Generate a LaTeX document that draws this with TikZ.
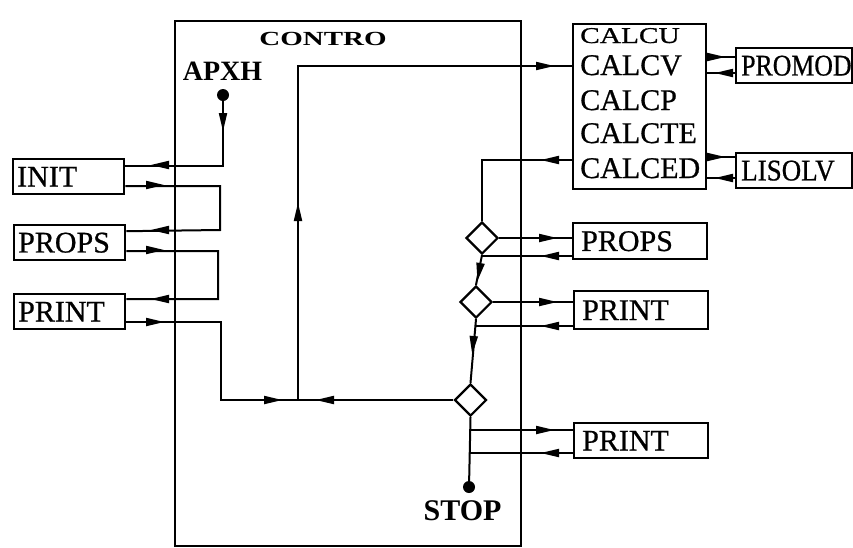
\documentclass[tikz,border=0pt]{standalone}
\usepackage{fontspec}
\setmainfont{Liberation Serif}
\newfontfamily\boxfont{Liberation Serif}[FakeBold=0.7]
\usepackage{graphicx}
\usetikzlibrary{calc,shapes.geometric}
\tikzset{
  ln/.style={line width=2pt},
  bx/.style={draw, line width=2.4pt, inner ysep=0pt, align=left, font=\boxfont\fontsize{30}{32}\selectfont, anchor=north west},
  lbox/.style={bx, inner xsep=4pt, minimum width=111pt, minimum height=35pt, text width=103pt},
  rbox/.style={bx, inner xsep=8pt, minimum width=134pt, minimum height=36pt, text width=118pt},
  xbox/.style={bx, inner xsep=5pt, minimum width=116pt, minimum height=35pt, text width=106pt},
  dia/.style={draw, line width=2.2pt, diamond, minimum width=32pt, minimum height=32pt, inner sep=0pt, fill=white},
  blob/.style={circle, fill, inner sep=0pt, minimum size=12pt},
  calctxt/.style={anchor=base west, inner sep=0pt, font=\boxfont\fontsize{30}{32}\selectfont},
  boldlbl/.style={inner sep=0pt, font=\bfseries\fontsize{28}{30}\selectfont},
  ah/.pic={\fill (-9,-4.3) -- (9,0) -- (-9,4.3) -- cycle;}
}
\begin{document}
\begin{tikzpicture}[x=1pt,y=-1pt]
\useasboundingbox (0,0) rectangle (853,547);
% main CONTRO box
\node[draw, line width=2.2pt, minimum width=346pt, minimum height=525pt, anchor=north west, inner sep=0pt] (contro) at (174,20) {};
\node[inner sep=0pt, font=\bfseries\fontsize{20}{22}\selectfont] (controlbl) at (323,38.5) {\scalebox{1.45}[1]{CONTRO}};
\node[boldlbl] (apxh) at (222.5,71) {APXH};
\node[blob] (start) at (223,95) {};
\node[boldlbl, font=\bfseries\fontsize{30}{32}\selectfont] (stop) at (462.5,511) {STOP};
\node[blob] (stopdot) at (469,487) {};

% left boxes
\node[lbox] (init) at (12,158) {INIT};
\node[lbox] (propsL) at (13,224) {PROPS};
\node[lbox] (printL) at (13,293) {PRINT};

% right boxes
\node[draw, line width=2.4pt, minimum width=133pt, minimum height=165pt, anchor=north west, inner sep=0pt] (calc) at (572,23) {};
\node[calctxt, font=\boxfont\fontsize{22.6}{24}\selectfont] (tcu) at (580,43) {\scalebox{1.3}[1]{CALCU}};
\node[calctxt] (tcv) at (580,75) {CALCV};
\node[calctxt] (tcp) at (580,110) {CALCP};
\node[calctxt] (tcte) at (580,143) {CALCTE};
\node[calctxt] (tced) at (580,178) {CALCED};
\node[xbox] (promod) at (735,47) {\scalebox{0.86}[1]{PROMOD}};
\node[xbox] (lisolv) at (735,152) {\scalebox{0.9}[1]{LISOLV}};
\node[rbox] (propsR) at (572,222) {PROPS};
\node[rbox, minimum height=38pt] (printR) at (573,290) {PRINT};
\node[rbox, minimum height=35pt] (printS) at (573,422) {PRINT};

% diamonds
\node[dia] (d1) at (482,238) {};
\node[dia] (d2) at (476,302) {};
\node[dia] (d3) at (470.5,400) {};

% attachment points
\coordinate (initA) at ($(init.east)+(0,-10.5)$);
\coordinate (initB) at ($(init.east)+(0,9.5)$);
\coordinate (propsA) at ($(propsL.east)+(0,-11.5)$);
\coordinate (propsB) at ($(propsL.east)+(0,8.5)$);
\coordinate (printA) at ($(printL.east)+(0,-12.5)$);
\coordinate (printB) at ($(printL.east)+(0,10.5)$);
\coordinate (jn) at (298,400);
\coordinate (calcA) at ($(calc.north west)+(0,43)$);
\coordinate (calcB) at ($(calc.north west)+(0,137)$);
\coordinate (calcP1) at ($(calc.north east)+(0,34)$);
\coordinate (calcP2) at ($(calc.north east)+(0,50)$);
\coordinate (calcL1) at ($(calc.north east)+(0,134)$);
\coordinate (calcL2) at ($(calc.north east)+(0,155)$);
\coordinate (propsRB) at ($(propsR.north west)+(0,34)$);
\coordinate (printRB) at ($(printR.north west)+(0,36)$);
\coordinate (printSA) at ($(printS.north west)+(0,8)$);
\coordinate (printSB) at ($(printS.north west)+(0,31)$);

% connectors, left chain
\draw[ln] (start) |- (initA);
\draw[ln] (initB) -| (220,230) -- (propsA);
\draw[ln] (propsB) -| (218,299) -- (printA);
\draw[ln] (printB) -| (221,400) -- (jn);
\draw[ln] (d3.west) -- (jn);
\draw[ln] (jn) |- (calcA);
\draw[ln] (calcB) -| (d1.north);
% right chain
\draw[ln] (d1.east) -- (d1.east -| propsR.west);
\draw[ln] (propsRB) -- (propsRB -| d1.south);
\draw[ln] (d1.south) -- (d2.north);
\draw[ln] (d2.east) -- (d2.east -| printR.west);
\draw[ln] (printRB) -- (printRB -| d2.south);
\draw[ln] (d2.south) -- (d3.north);
\draw[ln] (d3.south) -- (stopdot);
\draw[ln] (printSA -| stopdot) -- (printSA);
\draw[ln] (printSB) -- (printSB -| stopdot);
% sub calls
\draw[ln] (calcP1) -- (calcP1 -| promod.west);
\draw[ln] (calcP2) -- (calcP2 -| promod.west);
\draw[ln] (calcL1) -- (calcL1 -| lisolv.west);
\draw[ln] (calcL2) -- (calcL2 -| lisolv.west);

% arrowheads
\pic[rotate=-90] at (223,122) {ah};
\pic[rotate=180] at (160,165) {ah};
\pic at (155,185) {ah};
\pic[rotate=180] at (160,230) {ah};
\pic at (155,250) {ah};
\pic[rotate=180] at (160,299) {ah};
\pic at (155,322) {ah};
\pic at (273,400) {ah};
\pic[rotate=180] at (325,400) {ah};
\pic[rotate=90] at (298,212) {ah};
\pic at (545,66) {ah};
\pic[rotate=180] at (550,160) {ah};
\pic at (548,238) {ah};
\pic[rotate=180] at (550,256) {ah};
\pic[rotate=-100] at (479,272) {ah};
\pic at (548,302) {ah};
\pic[rotate=180] at (550,326) {ah};
\pic[rotate=-95] at (473,345) {ah};
\pic at (545,430) {ah};
\pic[rotate=180] at (550,453) {ah};
\pic at (716,57) {ah};
\pic[rotate=180] at (724,73) {ah};
\pic at (716,157) {ah};
\pic[rotate=180] at (724,178) {ah};
\end{tikzpicture}
\end{document}
